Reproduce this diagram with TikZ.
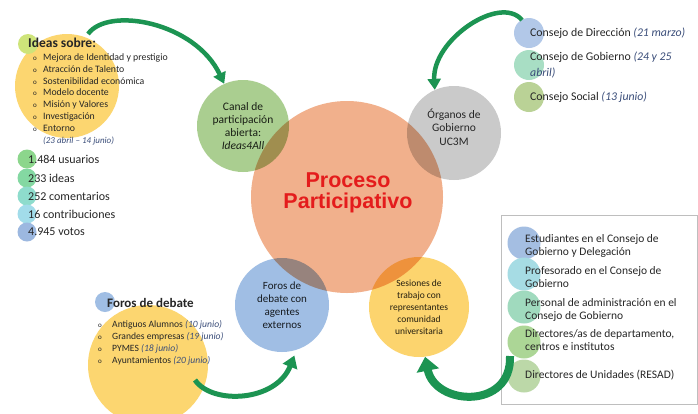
\documentclass[tikz,border=0pt]{standalone}
\usepackage{fontspec}
\setmainfont{Carlito}
\newfontfamily\titlefont{Liberation Sans}
\usetikzlibrary{positioning,arrows.meta}

\definecolor{textdark}{RGB}{38,38,38}
\definecolor{fechablue}{RGB}{59,78,122}
\definecolor{titlered}{RGB}{228,28,28}
\definecolor{procorange}{RGB}{241,176,140}
\definecolor{canalgreen}{RGB}{170,206,144}
\definecolor{organosgrey}{RGB}{202,202,202}
\definecolor{forosblue}{RGB}{160,190,228}
\definecolor{sesionyellow}{RGB}{252,212,110}
\definecolor{ideasyellow}{RGB}{252,214,112}
\definecolor{limegreen}{RGB}{206,228,122}
\definecolor{arrowgreen}{RGB}{28,148,82}
\definecolor{boxgrey}{RGB}{190,190,190}
% stats
\definecolor{statA}{RGB}{140,214,140}
\definecolor{statB}{RGB}{132,216,162}
\definecolor{statC}{RGB}{142,220,204}
\definecolor{statD}{RGB}{162,220,234}
\definecolor{statE}{RGB}{156,184,224}
% consejos
\definecolor{consA}{RGB}{178,200,232}
\definecolor{consB}{RGB}{168,222,196}
\definecolor{consC}{RGB}{186,210,150}
% representantes
\definecolor{repA}{RGB}{164,190,226}
\definecolor{repB}{RGB}{166,220,228}
\definecolor{repC}{RGB}{160,218,190}
\definecolor{repD}{RGB}{172,214,150}
\definecolor{repE}{RGB}{188,216,168}

\newcommand{\vineta}[1][10pt]{\makebox[#1][l]{\fontsize{7}{7}\selectfont o}}
\newcommand{\fecha}[1]{{\color{fechablue}\itshape #1}}

\tikzset{
	bubble/.style={circle, inner sep=0pt, align=center, text=textdark},
	listdot/.style={circle, inner sep=0pt, minimum size=#1},
	listtext/.style={anchor=west, inner sep=0pt, align=left, text=textdark},
	greenarrow/.style={draw=arrowgreen, line width=#1},
}

\begin{document}
\begin{tikzpicture}[x=1pt,y=-1pt]
	\useasboundingbox[fill=white] (0,0) rectangle (698,413);

	% Yellow circles behind the side lists
	\node[bubble, fill=ideasyellow, minimum size=104pt] (ideas) at (67,86) {};
	\node[bubble, fill=ideasyellow, minimum size=120pt] (debates) at (148,365) {};
	\node[listdot=20pt, fill=limegreen] (ideasdot) at (28,44) {};
	\node[listdot=20pt, fill=forosblue] (debatesdot) at (105,302) {};

	% Central bubble and its four satellites
	\node[bubble, fill=procorange, minimum size=192pt] (proc) at (347,197) {};
	\begin{scope}[blend mode=multiply]
		\node[bubble, fill=canalgreen, minimum size=92pt, font=\fontsize{11.5}{13}\selectfont] (canal) at (243,126)
			{Canal de\\participación\\abierta:\\\textit{Ideas4All}};
		\node[bubble, fill=organosgrey, minimum size=94pt] (organos) at (454,133) {};
		\node[bubble, fill=forosblue, minimum size=94pt, font=\fontsize{11}{13}\selectfont] (foros) at (282,305)
			{Foros de\\debate con\\agentes\\externos};
		\node[bubble, fill=sesionyellow, minimum size=100pt, font=\fontsize{9.5}{12}\selectfont] (sesiones) at (419,307)
			{Sesiones de\\trabajo con\\representantes\\comunidad\\universitaria};
	\end{scope}
	\node[bubble, font=\fontsize{11.5}{13.5}\selectfont] (organostext) at ([yshift=6pt]organos.center) {Órganos de\\Gobierno\\UC3M};
	\node[align=center, text=titlered, font=\titlefont\bfseries\fontsize{21.5}{21}\selectfont] (title) at (348,193)
		{Proceso\\Participativo};

	% Ideas sobre
	\node[listtext, font=\bfseries\fontsize{13.5}{16}\selectfont] (ideashead) at (28,43) {Ideas sobre:};
	\node[listtext, font=\fontsize{9.8}{11.8}\selectfont] (ideaslist) at (33,92.5)
		{\vineta Mejora de Identidad y prestigio\\
		\vineta Atracción de Talento\\
		\vineta Sostenibilidad económica\\
		\vineta Modelo docente\\
		\vineta Misión y Valores\\
		\vineta Investigación\\
		\vineta Entorno};
	\node[listtext, font=\fontsize{9}{11}\selectfont] (ideasfecha) at (43,141) {\fecha{(23 abril – 14 junio)}};

	% Stats of Ideas4All
	\node[listdot=19pt, fill=statA] (usuarios) at (27,159) {};
	\node[listdot=19pt, fill=statB] (ideasnum) at (27,178) {};
	\node[listdot=19pt, fill=statC] (comentarios) at (27,196) {};
	\node[listdot=19pt, fill=statD] (contribuciones) at (27,214) {};
	\node[listdot=19pt, fill=statE] (votos) at (27,232) {};
	\node[listtext, font=\fontsize{12}{14}\selectfont] at ([xshift=1pt]usuarios.center) {1.484 usuarios};
	\node[listtext, font=\fontsize{12}{14}\selectfont] at ([xshift=1pt]ideasnum.center) {233 ideas};
	\node[listtext, font=\fontsize{12}{14}\selectfont] at ([xshift=1pt]comentarios.center) {252 comentarios};
	\node[listtext, font=\fontsize{12}{14}\selectfont] at ([xshift=1pt]contribuciones.center) {16 contribuciones};
	\node[listtext, font=\fontsize{12}{14}\selectfont] at ([xshift=1pt]votos.center) {4.945 votos};

	% Consejos (top right)
	\node[listdot=30pt, fill=consA] (direccion) at (529,33) {};
	\node[listdot=30pt, fill=consB] (gobierno) at (529,65) {};
	\node[listdot=30pt, fill=consC] (social) at (529,97) {};
	\node[listtext, font=\fontsize{11.8}{16}\selectfont] at (530,33) {Consejo de Dirección \fecha{(21 marzo)}};
	\node[listtext, font=\fontsize{11.8}{16}\selectfont] at (530,65) {Consejo de Gobierno \fecha{(24 y 25}\\\fecha{abril)}};
	\node[listtext, font=\fontsize{11.8}{16}\selectfont] at (530,97) {Consejo Social \fecha{(13 junio)}};

	% Foros de debate (bottom left)
	\node[listtext, font=\bfseries\fontsize{13}{16}\selectfont] (debateshead) at (107,303) {Foros de debate};
	\node[listtext, font=\fontsize{9.6}{12}\selectfont] (debateslist) at (98,343)
		{\vineta[14pt]Antiguos Alumnos \fecha{(10 junio)}\\
		\vineta[14pt]Grandes empresas \fecha{(19 junio)}\\
		\vineta[14pt]PYMES \fecha{(18 junio)}\\
		\vineta[14pt]Ayuntamientos \fecha{(20 junio)}};

	% Representantes (bottom right box)
	\node[draw=boxgrey, minimum width=196pt, minimum height=189pt, anchor=north west] (box) at (501,215) {};
	\node[listdot=33pt, fill=repA] (estudiantes) at (524,243) {};
	\node[listdot=33pt, fill=repB] (profesorado) at (524,274) {};
	\node[listdot=33pt, fill=repC] (personal) at (524,307) {};
	\node[listdot=33pt, fill=repD] (directores) at (524,342) {};
	\node[listdot=33pt, fill=repE] (unidades) at (524,376) {};
	\node[listtext, font=\fontsize{11.5}{13}\selectfont] at (525,245.5) {Estudiantes en el Consejo de\\Gobierno y Delegación};
	\node[listtext, font=\fontsize{11.5}{13}\selectfont] at (525,277) {Profesorado en el Consejo de\\Gobierno};
	\node[listtext, font=\fontsize{11.5}{13}\selectfont] at (525,309.5) {Personal de administración en el\\Consejo de Gobierno};
	\node[listtext, font=\fontsize{11.5}{13}\selectfont] at (525,340.5) {Directores/as de departamento,\\centros e institutos};
	\node[listtext, font=\fontsize{11.5}{13}\selectfont] at (525,375) {Directores de Unidades (RESAD)};

	% Green arrows into the satellites
	\coordinate (ideastail) at (88,34);
	\coordinate (consejotail) at (522,20);
	\coordinate (debatestail) at (195,380);
	\coordinate (sesionestail) at (510,356);
	\draw[greenarrow=4.5pt, -{Triangle[length=11pt,width=13pt]}] (ideastail) .. controls (108,6) and (195,22) .. (canal.114);
	\draw[greenarrow=4.5pt, -{Triangle[length=11pt,width=13pt]}] (consejotail) .. controls (500,-6) and (432,40) .. (organos.114);
	\draw[greenarrow=5pt, -{Triangle[length=12pt,width=15pt]}, shorten >=6pt] (debatestail) .. controls (212,405) and (276,402) .. (foros.-72);
	\draw[greenarrow=8pt, -{Triangle[length=14pt,width=22pt]}] (sesionestail) .. controls (512,410) and (435,406) .. (sesiones.-83);
\end{tikzpicture}
\end{document}
